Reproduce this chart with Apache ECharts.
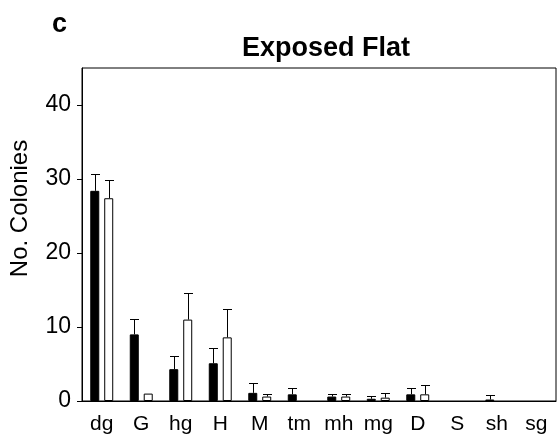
<!DOCTYPE html>
<html>
<head>
<meta charset="UTF-8">
<title>Exposed Flat</title>
<script type="text/javascript" src="https://cdn.jsdelivr.net/npm/echarts@6/dist/echarts.min.js"></script>
<style>
html, body { margin: 0; padding: 0; background: #fff; }
</style>
</head>
<body>
	<div id="div1" style="width:558px;height:441px"></div>
	<script type="text/javascript">
	// colony counts, black = first group, white = second group, err = upper error bar
	var categories = ['dg', 'G', 'hg', 'H', 'M', 'tm', 'mh', 'mg', 'D', 'S', 'sh', 'sg'];
	var blackMean = [28.4, 9.0, 4.3, 5.1, 1.1, 0.9, 0.6, 0.3, 0.9, 0, 0.2, 0];
	var blackErr  = [2.3, 2.1, 1.8, 2.0, 1.4, 0.8, 0.4, 0.4, 0.8, 0, 0.55, 0];
	var whiteMean = [27.4, 1.0, 11.0, 8.6, 0.6, 0, 0.6, 0.45, 0.9, 0, 0, 0];
	var whiteErr  = [2.4, 0, 3.6, 3.8, 0.4, 0, 0.4, 0.6, 1.2, 0, 0, 0];
	var yTicks = [0, 10, 20, 30, 40];

	var font = 'Liberation Sans, Arial, sans-serif';
	var myChart = echarts.init(document.getElementById('div1'));

	var errData = function (mean, err) {
	    var res = [];
	    for (var i = 0; i < mean.length; i++) {
	        res.push([i, mean[i], mean[i] + err[i]]);
	    }
	    return res;
	};

	var errSeries = function (mean, err, dx) {
	    return {
	        type: 'custom',
	        data: errData(mean, err),
	        z: 5,
	        renderItem: function (params, api) {
	            var lo = api.value(1), hi = api.value(2);
	            if (hi <= lo) return null;
	            var p0 = api.coord([api.value(0), lo]);
	            var p1 = api.coord([api.value(0), hi]);
	            var x = Math.round(p0[0] + dx) + 0.5;
	            var y1 = Math.round(p1[1]) + 0.5;
	            return {
	                type: 'group',
	                children: [
	                    { type: 'line', shape: { x1: x, y1: p0[1], x2: x, y2: y1 }, style: { stroke: '#000', lineWidth: 1 } },
	                    { type: 'line', shape: { x1: x - 4.5, y1: y1, x2: x + 4.5, y2: y1 }, style: { stroke: '#000', lineWidth: 1 } }
	                ]
	            };
	        }
	    };
	};

	// zero bars are not drawn
	var bars = function (arr) {
	    return arr.map(function (v) { return v > 0 ? v : '-'; });
	};

	var option = {
	    animation: false,
	    title: [
	        { text: 'c', left: 47, top: 6, textStyle: { fontFamily: font, fontSize: 27, fontWeight: 'bold', color: '#000' } },
	        { text: 'Exposed Flat', left: 237, top: 30, textStyle: { fontFamily: font, fontSize: 27, fontWeight: 'bold', color: '#000' } }
	    ],
	    grid: { left: 80, right: 2, top: 68, bottom: 40, show: true, borderColor: '#000', borderWidth: 1 },
	    xAxis: {
	        type: 'category',
	        data: categories,
	        axisLine: { lineStyle: { color: '#000', width: 1 } },
	        axisTick: { show: false },
	        axisLabel: { color: '#000', fontFamily: font, fontSize: 21, margin: 13 }
	    },
	    yAxis: {
	        type: 'value',
	        min: 0,
	        max: 45,
	        interval: 10,
	        name: 'No. Colonies',
	        nameLocation: 'middle',
	        nameGap: 50,
	        nameTextStyle: { color: '#000', fontFamily: font, fontSize: 24, padding: [0, 0, 0, 52] },
	        splitLine: { show: false },
	        axisLine: { show: true, lineStyle: { color: '#000', width: 1 } },
	        axisTick: { show: true, length: 5, customValues: yTicks, lineStyle: { color: '#000' } },
	        axisLabel: { color: '#000', fontFamily: font, fontSize: 23, margin: 11, customValues: yTicks }
	    },
	    series: [
	        {
	            type: 'bar',
	            data: bars(blackMean),
	            barWidth: 9,
	            barGap: '55%',
	            itemStyle: { color: '#000', borderColor: '#000', borderWidth: 1 }
	        },
	        {
	            type: 'bar',
	            data: bars(whiteMean),
	            barWidth: 9,
	            itemStyle: { color: '#fff', borderColor: '#000', borderWidth: 1 }
	        },
	        errSeries(blackMean, blackErr, -7),
	        errSeries(whiteMean, whiteErr, 7)
	    ]
	};
	myChart.setOption(option);
	</script>
</body>
</html>
